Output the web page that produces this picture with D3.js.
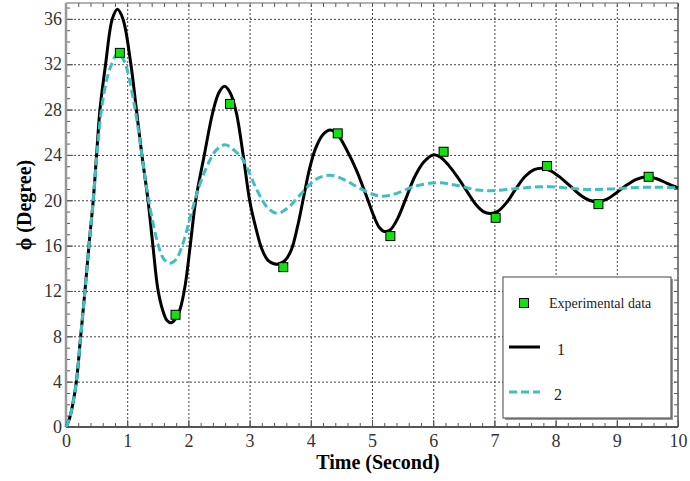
<!DOCTYPE html>
<html>
<head>
<meta charset="utf-8">
<script src="https://d3js.org/d3.v7.min.js"></script>
<style>
  body { margin: 0; background: #fff; }
  svg { display: block; }
  .domain { display: none; }
</style>
</head>
<body>
<script>
// curve 1 (solid black): [time, phi]
var curve1 = [[0,0],[0.06,0.8],[0.11,2],[0.17,4],[0.24,8],[0.31,12],[0.375,16],[0.445,20],[0.5,24],[0.555,28],
  [0.647,32],[0.757,36],[0.84,36.85],[0.93,36],[1.06,32],[1.15,28],[1.24,24],[1.34,20],[1.42,16],[1.5,12.2],
  [1.58,10.3],[1.65,9.4],[1.72,9.2],[1.8,9.6],[1.87,10.5],[1.95,12.6],[2.03,16],[2.12,20],[2.26,24],[2.4,27.8],
  [2.5,29.5],[2.59,30.05],[2.68,29.5],[2.78,27.8],[2.9,23.8],[3.0,20.0],[3.1,17.6],[3.2,15.7],[3.3,14.7],
  [3.4,14.4],[3.47,14.37],[3.58,14.7],[3.68,15.6],[3.78,17.6],[3.88,20.2],[3.98,22.8],[4.08,24.6],[4.2,25.8],
  [4.32,26.2],[4.45,25.7],[4.6,24.3],[4.75,22.6],[4.9,20.5],[5.03,18.6],[5.12,17.6],[5.2,17.25],[5.3,17.4],
  [5.42,18.4],[5.55,20.1],[5.7,22.1],[5.85,23.4],[6.0,24.0],[6.12,23.8],[6.25,23.1],[6.39,22.1],[6.55,20.8],
  [6.7,19.6],[6.82,19.0],[6.93,18.84],[7.05,19.0],[7.2,19.8],[7.35,21.0],[7.5,22.1],[7.65,22.7],[7.78,22.82],
  [7.92,22.6],[8.08,22.0],[8.25,21.2],[8.42,20.4],[8.55,20.0],[8.68,19.87],[8.82,20.05],[8.98,20.6],[9.15,21.3],
  [9.32,21.85],[9.49,22.07],[9.65,21.9],[9.82,21.5],[10,21.1]];

// curve 2 (dashed teal)
var curve2 = [[0,0],[0.06,0.8],[0.11,2],[0.17,4],[0.24,8],[0.31,12],[0.375,16],[0.445,20],[0.505,24],[0.58,28],
  [0.66,30.5],[0.745,32],[0.85,33],[0.95,32.3],[1.0,31.5],[1.13,28],[1.24,24],[1.35,20],[1.51,16],[1.6,14.8],
  [1.7,14.45],[1.8,14.8],[1.9,16],[2.03,18.5],[2.15,20.8],[2.28,22.7],[2.45,24.4],[2.6,24.9],[2.75,24.4],
  [2.9,23.5],[3.12,20.9],[3.3,19.3],[3.45,18.85],[3.62,19.3],[3.83,20.5],[4.1,21.9],[4.32,22.2],[4.55,21.8],
  [4.75,21.2],[5.0,20.55],[5.17,20.35],[5.4,20.6],[5.68,21.2],[6.06,21.55],[6.4,21.3],[6.72,20.9],[6.95,20.85],
  [7.3,21.0],[7.6,21.15],[7.9,21.2],[8.25,21.05],[8.57,20.95],[8.9,21.0],[9.2,21.1],[9.6,21.15],[10,21.1]];

// experimental data
var expTime = [0.88, 1.79, 2.68, 3.55, 4.44, 5.30, 6.17, 7.02, 7.86, 8.70, 9.52];
var expPhi  = [33.0, 9.9, 28.5, 14.1, 25.9, 16.84, 24.28, 18.45, 23.02, 19.66, 22.07];

var xTicks = [0,1,2,3,4,5,6,7,8,9,10];
var yTicks = [0,4,8,12,16,20,24,28,32,36];
var legendLabels = ["Experimental data", "1", "2"];

var serif = "'Liberation Serif', 'Times New Roman', serif";
var margin = {top: 3, right: 12, bottom: 54, left: 66};
var W = 690, H = 481;
var w = W - margin.left - margin.right, h = H - margin.top - margin.bottom;

var svg = d3.select("body").append("svg").attr("width", W).attr("height", H)
  .attr("font-family", serif);
var g = svg.append("g").attr("transform", "translate(" + margin.left + "," + margin.top + ")");

var x = d3.scaleLinear().domain([0, 10]).range([0, w]);
var y = d3.scaleLinear().domain([0, 37.4]).range([h, 0]);

// grid
g.append("g").attr("transform", "translate(0," + h + ")")
  .call(d3.axisBottom(x).tickValues(xTicks.slice(1, -1)).tickSize(-h).tickFormat(""))
  .selectAll("line").attr("stroke", "#444").attr("stroke-dasharray", "2,2");
g.append("g")
  .call(d3.axisLeft(y).tickValues(yTicks.slice(1)).tickSize(-w).tickFormat(""))
  .selectAll("line").attr("stroke", "#444").attr("stroke-dasharray", "2,2");

// minor ticks on all four sides
var xMinor = d3.range(0, 10.01, 0.2), yMinor = d3.range(0, 37.01, 1);
function ticks(axis, tr, size) {
  var a = g.append("g").attr("transform", tr).call(axis.tickSize(size).tickFormat(""));
  a.selectAll("line").attr("stroke", "#555");
}
ticks(d3.axisBottom(x).tickValues(xMinor), "translate(0," + h + ")", -4);
ticks(d3.axisTop(x).tickValues(xMinor), "translate(0,0)", -4);
ticks(d3.axisLeft(y).tickValues(yMinor), "translate(0,0)", -4);
ticks(d3.axisRight(y).tickValues(yMinor), "translate(" + w + ",0)", -4);
ticks(d3.axisBottom(x).tickValues(xTicks), "translate(0," + h + ")", -7);
ticks(d3.axisLeft(y).tickValues(yTicks), "translate(0,0)", -7);

// tick labels
var xa = g.append("g").attr("transform", "translate(0," + h + ")")
  .call(d3.axisBottom(x).tickValues(xTicks).tickSize(0).tickPadding(4).tickFormat(d3.format("d")))
  .attr("font-family", serif).attr("font-size", 18);
xa.selectAll("text").attr("dy", "0.9em").attr("fill", "#333");
var ya = g.append("g")
  .call(d3.axisLeft(y).tickValues(yTicks).tickSize(0).tickPadding(4).tickFormat(d3.format("d")))
  .attr("font-family", serif).attr("font-size", 18);
ya.selectAll("text").attr("fill", "#333");

// frame
g.append("line").attr("x1", 0).attr("x2", w).attr("y1", 0).attr("y2", 0).attr("stroke", "#666");
g.append("line").attr("x1", w).attr("x2", w).attr("y1", 0).attr("y2", h).attr("stroke", "#555").attr("stroke-width", 1.5);
g.append("line").attr("x1", 0).attr("x2", 0).attr("y1", 0).attr("y2", h).attr("stroke", "#999").attr("stroke-width", 2.5);
g.append("line").attr("x1", 0).attr("x2", w).attr("y1", h).attr("y2", h).attr("stroke", "#555").attr("stroke-width", 2);

// curves
var line = d3.line().x(function(d) { return x(d[0]); }).y(function(d) { return y(d[1]); })
  .curve(d3.curveCatmullRom.alpha(0.5));
g.append("path").datum(curve1).attr("d", line)
  .attr("fill", "none").attr("stroke", "#000").attr("stroke-width", 3);
g.append("path").datum(curve2).attr("d", line)
  .attr("fill", "none").attr("stroke", "#3fc0c0").attr("stroke-width", 3).attr("stroke-dasharray", "8,4");

// experimental squares
var sq = 9;
g.selectAll("rect.exp").data(expTime).enter().append("rect").attr("class", "exp")
  .attr("x", function(d) { return x(d) - sq / 2; })
  .attr("y", function(d, i) { return y(expPhi[i]) - sq / 2; })
  .attr("width", sq).attr("height", sq)
  .attr("fill", "#11e011").attr("stroke", "#000").attr("stroke-width", 1);

// legend
var lg = svg.append("g").attr("transform", "translate(503,277)");
lg.append("rect").attr("x", 2).attr("y", 2).attr("width", 168).attr("height", 141).attr("fill", "#999");
lg.append("rect").attr("width", 168).attr("height", 141).attr("fill", "#fff").attr("stroke", "#444");
lg.append("rect").attr("x", 21 - sq / 2).attr("y", 26 - sq / 2).attr("width", sq).attr("height", sq)
  .attr("fill", "#11e011").attr("stroke", "#000");
lg.append("line").attr("x1", 6).attr("x2", 37).attr("y1", 70).attr("y2", 70)
  .attr("stroke", "#000").attr("stroke-width", 3);
lg.append("line").attr("x1", 6).attr("x2", 37).attr("y1", 115).attr("y2", 115)
  .attr("stroke", "#3fc0c0").attr("stroke-width", 3).attr("stroke-dasharray", "8,4");
lg.selectAll("text").data(legendLabels).enter().append("text")
  .attr("x", function(d, i) { return [46, 54, 51][i]; })
  .attr("y", function(d, i) { return [31, 78, 123][i]; })
  .attr("font-size", function(d, i) { return i ? 16 : 14; })
  .attr("fill", "#222")
  .text(function(d) { return d; });

// axis titles
svg.append("text").attr("x", margin.left + w / 2 + 6).attr("y", 469)
  .attr("text-anchor", "middle").attr("font-size", 20).attr("font-weight", "bold")
  .text("Time (Second)");
svg.append("text").attr("transform", "translate(31,205) rotate(-90)")
  .attr("text-anchor", "middle").attr("font-size", 20).attr("font-weight", "bold")
  .text("ϕ (Degree)");
</script>
</body>
</html>
